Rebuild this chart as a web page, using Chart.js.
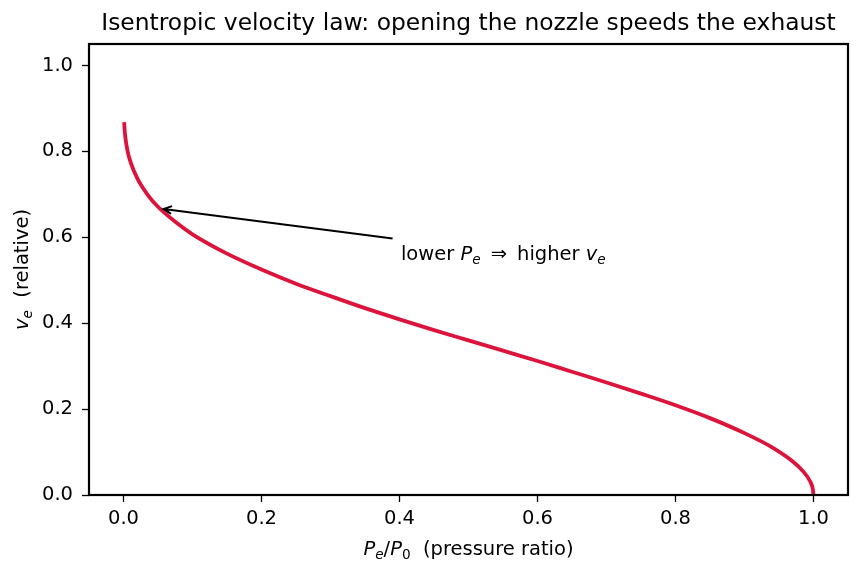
<!DOCTYPE html>
<html>
<head>
<meta charset="utf-8">
<script src="https://cdn.jsdelivr.net/npm/chart.js@4/dist/chart.umd.min.js"></script>
<style>
  html, body { margin: 0; padding: 0; background: #fff; }
  #wrap { width: 862px; height: 573px; }
</style>
</head>
<body>
<div id="wrap"><canvas id="chart" width="862" height="573"></canvas></div>
<script>
// pressure ratio Pe/P0 and relative exhaust velocity
const pressureRatio = [0.001, 0.0015, 0.003, 0.006, 0.01, 0.02, 0.035, 0.05, 0.075, 0.1, 0.15, 0.2, 0.25, 0.3, 0.35, 0.4, 0.45, 0.5, 0.55, 0.6, 0.65, 0.7, 0.75, 0.8, 0.85, 0.9, 0.94, 0.97, 0.985, 0.995, 0.999, 1.0];
const velocity = [0.868, 0.853, 0.829, 0.800, 0.776, 0.737, 0.699, 0.671, 0.636, 0.607, 0.562, 0.525, 0.492, 0.463, 0.435, 0.409, 0.384, 0.360, 0.336, 0.312, 0.287, 0.262, 0.236, 0.209, 0.179, 0.144, 0.111, 0.078, 0.055, 0.032, 0.014, 0.0];

const xTicks = [0, 0.2, 0.4, 0.6, 0.8, 1.0];
const yTicks = [0, 0.2, 0.4, 0.6, 0.8, 1.0];

const titleText = 'Isentropic velocity law: opening the nozzle speeds the exhaust';

// annotation anchor points (data units)
const arrowTip = [0.058, 0.666];
const arrowTail = [0.39, 0.597];
const notePos = [0.402, 0.548];

const FONT = '"DejaVu Sans", sans-serif';
const BASE = 19.5;

// draw text made of pieces: {t, i (italic), sub}
function richWidth(ctx, segs, size) {
    let w = 0;
    segs.forEach(s => {
        const sz = s.sub ? size * 0.7 : size;
        ctx.font = (s.i ? 'oblique ' : '') + sz + 'px ' + FONT;
        w += ctx.measureText(s.t).width;
    });
    return w;
}

function drawRich(ctx, segs, x, y, size) {
    ctx.textAlign = 'left';
    ctx.textBaseline = 'alphabetic';
    segs.forEach(s => {
        const sz = s.sub ? size * 0.7 : size;
        ctx.font = (s.i ? 'oblique ' : '') + sz + 'px ' + FONT;
        ctx.fillText(s.t, x, s.sub ? y + size * 0.22 : y);
        x += ctx.measureText(s.t).width;
    });
}

const xLabel = [{t: 'P', i: 1}, {t: 'e', i: 1, sub: 1}, {t: '/'}, {t: 'P', i: 1}, {t: '0', sub: 1}, {t: '  (pressure ratio)'}];
const yLabel = [{t: 'v', i: 1}, {t: 'e', i: 1, sub: 1}, {t: '  (relative)'}];
const noteText = [{t: 'lower '}, {t: 'P', i: 1}, {t: 'e', i: 1, sub: 1}, {t: ' \u2009\u21D2\u2009 '}, {t: 'higher '}, {t: 'v', i: 1}, {t: 'e', i: 1, sub: 1}];

const extras = {
    id: 'extras',
    afterDraw(chart) {
        const ctx = chart.ctx;
        const a = chart.chartArea;
        const xs = chart.scales.x, ys = chart.scales.y;
        ctx.save();
        ctx.fillStyle = '#000';
        ctx.strokeStyle = '#000';

        // title, centred over the axes
        ctx.font = '23.4px ' + FONT;
        ctx.textAlign = 'center';
        ctx.textBaseline = 'middle';
        ctx.fillText(titleText, (a.left + a.right) / 2, 24);

        // frame
        ctx.lineWidth = 2.2;
        ctx.strokeRect(a.left, a.top, a.right - a.left, a.bottom - a.top);

        // axis labels
        let w = richWidth(ctx, xLabel, BASE);
        drawRich(ctx, xLabel, (a.left + a.right) / 2 - w / 2, 555, BASE);

        w = richWidth(ctx, yLabel, BASE);
        ctx.save();
        ctx.translate(28, (a.top + a.bottom) / 2);
        ctx.rotate(-Math.PI / 2);
        drawRich(ctx, yLabel, -w / 2, 0, BASE);
        ctx.restore();

        // annotation arrow
        const tx = xs.getPixelForValue(arrowTip[0]), ty = ys.getPixelForValue(arrowTip[1]);
        const sx = xs.getPixelForValue(arrowTail[0]), sy = ys.getPixelForValue(arrowTail[1]);
        ctx.lineWidth = 2;
        ctx.beginPath();
        ctx.moveTo(sx, sy);
        ctx.lineTo(tx, ty);
        const ang = Math.atan2(ty - sy, tx - sx);
        const hl = 9, hw = 0.45;
        ctx.moveTo(tx - hl * Math.cos(ang - hw), ty - hl * Math.sin(ang - hw));
        ctx.lineTo(tx, ty);
        ctx.lineTo(tx - hl * Math.cos(ang + hw), ty - hl * Math.sin(ang + hw));
        ctx.stroke();

        drawRich(ctx, noteText, xs.getPixelForValue(notePos[0]), ys.getPixelForValue(notePos[1]), BASE);
        ctx.restore();
    }
};

new Chart(document.getElementById('chart'), {
    type: 'scatter',
    data: {
        datasets: [{
            data: pressureRatio.map((p, i) => ({x: p, y: velocity[i]})),
            showLine: true,
            borderColor: '#DC143C',
            borderWidth: 3.8,
            pointRadius: 0,
            cubicInterpolationMode: 'monotone',
            fill: false
        }]
    },
    options: {
        responsive: false,
        animation: false,
        layout: { padding: { top: 44, right: 14, left: 0, bottom: 0 } },
        plugins: {
            legend: { display: false },
            tooltip: { enabled: false },
            title: { display: false }
        },
        scales: {
            x: {
                type: 'linear',
                min: -0.05,
                max: 1.05,
                afterBuildTicks: s => { s.ticks = xTicks.map(v => ({value: v})); },
                afterFit: s => { s.height = 78; },
                grid: { drawOnChartArea: false, drawTicks: true, tickLength: 7, tickColor: '#000', tickWidth: 1.3 },
                border: { display: false },
                ticks: { color: '#000', font: { family: FONT, size: BASE }, padding: 5, maxRotation: 0, callback: v => v.toFixed(1) }
            },
            y: {
                type: 'linear',
                min: 0,
                max: 1.05,
                afterBuildTicks: s => { s.ticks = yTicks.map(v => ({value: v})); },
                afterFit: s => { s.width = 89; },
                grid: { drawOnChartArea: false, drawTicks: true, tickLength: 7, tickColor: '#000', tickWidth: 1.3 },
                border: { display: false },
                ticks: { color: '#000', font: { family: FONT, size: BASE }, padding: 9, callback: v => v.toFixed(1) }
            }
        }
    },
    plugins: [extras]
});
</script>
</body>
</html>
